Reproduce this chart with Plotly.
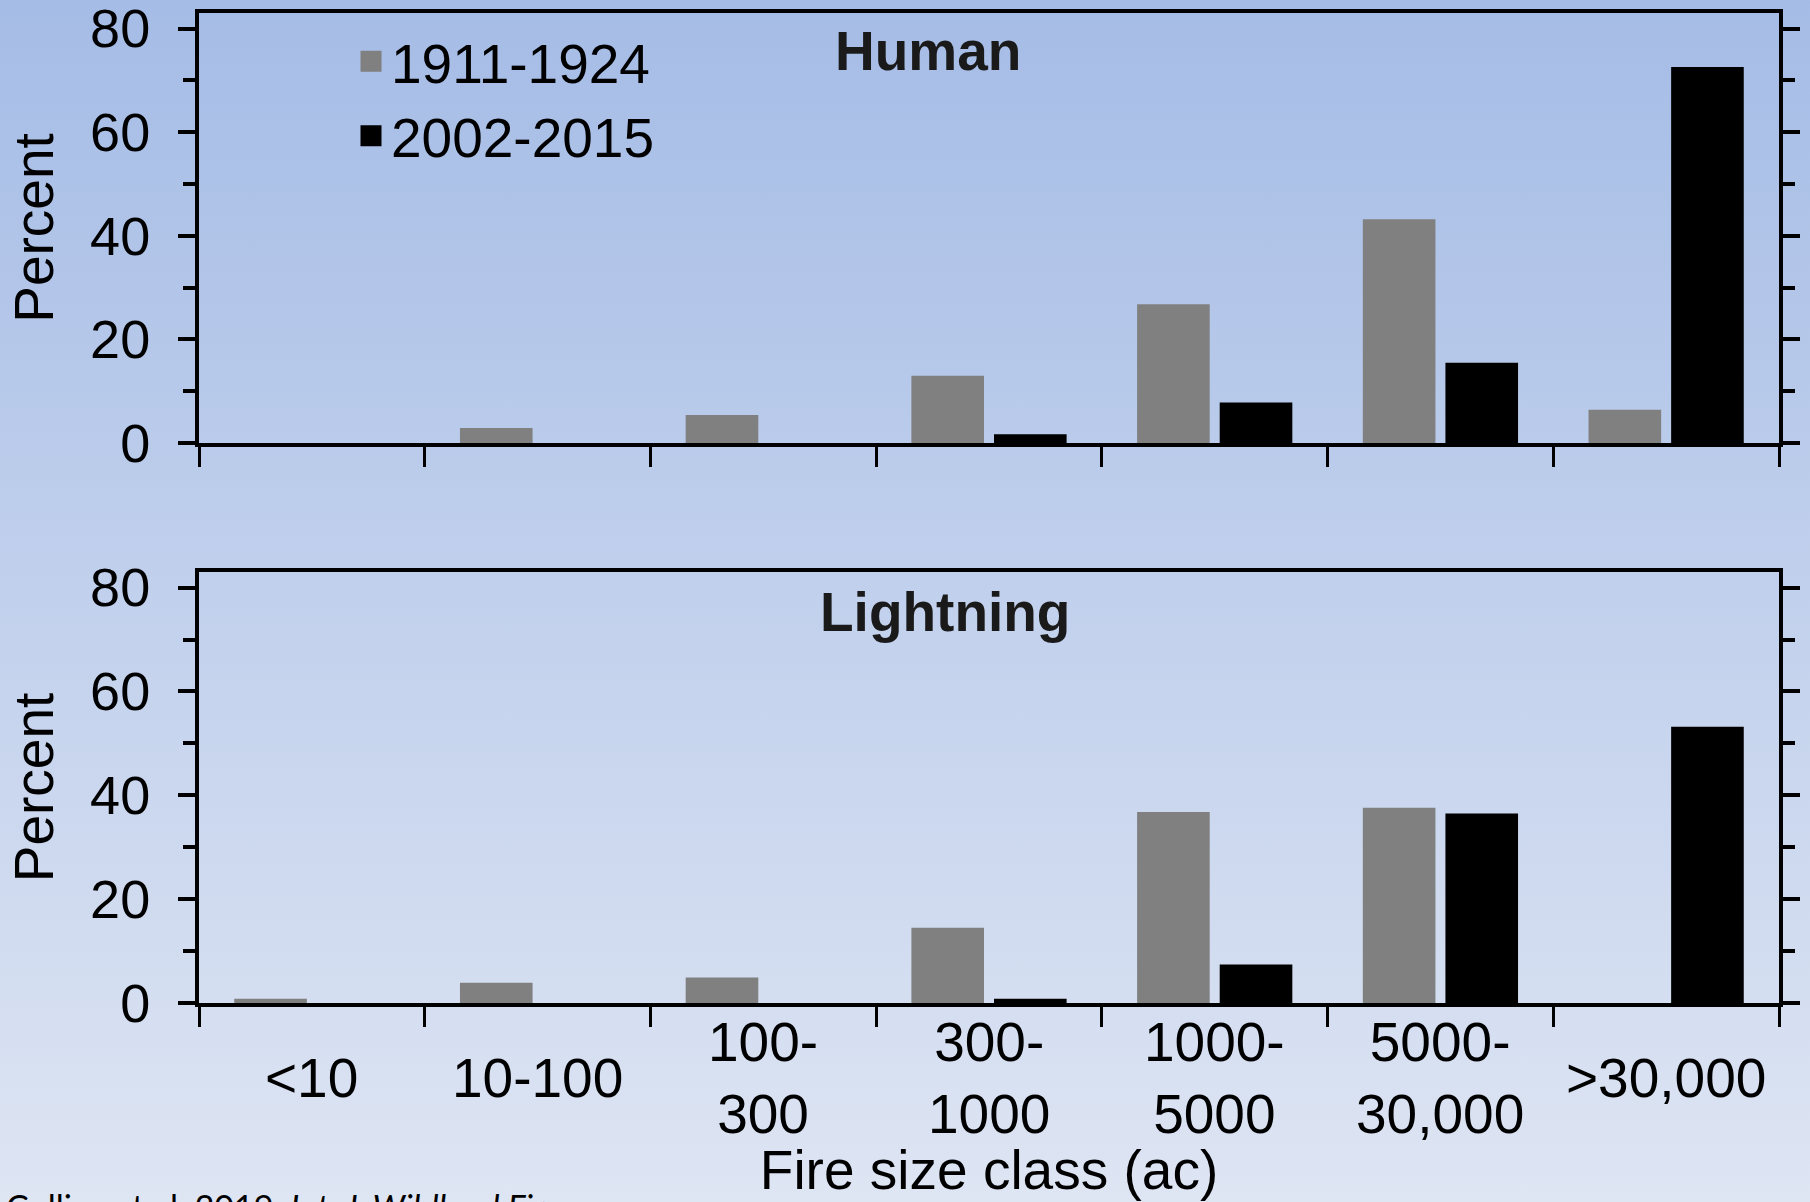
import base64
import plotly.graph_objects as go

# ---------------- data ----------------
categories = ["<10", "10-100", "100-300", "300-1000", "1000-5000", "5000-30,000", ">30,000"]
tick_labels = ["<10", "10-100", "100-<br>300", "300-<br>1000", "1000-<br>5000", "5000-<br>30,000", ">30,000"]
series_names = ["1911-1924", "2002-2015"]
human_1911 = [0, 2.9, 5.4, 13.0, 26.8, 43.2, 6.4]
human_2002 = [0, 0, 0, 1.7, 7.8, 15.5, 72.6]
lightning_1911 = [0.8, 3.9, 4.9, 14.5, 36.8, 37.6, 0]
lightning_2002 = [0, 0, 0, 0.8, 7.4, 36.5, 53.2]
panel_titles = ["Human", "Lightning"]
y_title = "Percent"
x_title = "Fire size class (ac)"
citation = "Collins et al. 2019. <i>Int. J. Wildland Fire</i>"

# ---------------- style ----------------
W, H = 1810, 1202
ML, MR, MT, MB = 199, 31, 13, 199
PW, PH = W - ML - MR, H - MT - MB
FONT = "Liberation Sans, Arial, sans-serif"
GRAY = "#808080"
BLACK = "#000000"
FS = 55


def py(px):
    return (H - MB - px) / PH


def pxx(px):
    return (px - ML) / PW


fig = go.Figure()

for xa, ya, vals_a, vals_b in [("x", "y", human_1911, human_2002),
                               ("x2", "y2", lightning_1911, lightning_2002)]:
    fig.add_trace(go.Bar(x=categories, y=vals_a, marker=dict(color=GRAY, line=dict(width=0)),
                         name=series_names[0], showlegend=False, xaxis=xa, yaxis=ya,
                         hoverinfo="x+y"))
    fig.add_trace(go.Bar(x=categories, y=vals_b, marker=dict(color=BLACK, line=dict(width=0)),
                         name=series_names[1], showlegend=False, xaxis=xa, yaxis=ya,
                         hoverinfo="x+y"))

# legend entries (larger square symbols)
for name, col in zip(series_names, [GRAY, BLACK]):
    fig.add_trace(go.Scatter(x=[None], y=[None], mode="markers", name=name,
                             marker=dict(symbol="square", size=16, color=col,
                                         line=dict(width=5, color=col)),
                             xaxis="x", yaxis="y", showlegend=True))

xcommon = dict(type="category", categoryorder="array", categoryarray=categories,
               range=[-0.5, len(categories) - 0.5], tickson="boundaries",
               ticks="outside", ticklen=20, tickwidth=3, tickcolor="black",
               showticklabels=False, showline=True, linewidth=4, linecolor="black",
               mirror=True, showgrid=False, zeroline=False, fixedrange=True,
               automargin=False)
ycommon = dict(range=[0, 83], dtick=20, tick0=0, ticks="outside", ticklen=17, tickwidth=3.5,
               tickcolor="black", minor=dict(dtick=10, ticks="outside", ticklen=12,
                                             tickwidth=3.5, tickcolor="black"),
               showline=True, linewidth=4, linecolor="black", mirror="ticks",
               showgrid=False, zeroline=False, tickfont=dict(size=54, color="black"),
               ticklabelstandoff=17, ticklabeloverflow="allow", fixedrange=True,
               automargin=False,
               title=dict(text=y_title, font=dict(size=FS, color="black"), standoff=20))

fig.update_layout(
    template="none",
    width=W, height=H, autosize=False,
    margin=dict(l=ML, r=MR, t=MT, b=MB, pad=0),
    font=dict(family=FONT, color="black"),
    paper_bgcolor="#c3d1ec", plot_bgcolor="rgba(0,0,0,0)",
    barmode="group", bargap=0.268, bargroupgap=0.121,
    xaxis=dict(domain=[0, 1], anchor="y", **xcommon),
    yaxis=dict(domain=[py(443), 1.0], anchor="x", **ycommon),
    xaxis2=dict(domain=[0, 1], anchor="y2", **xcommon,
                title=dict(text=x_title, font=dict(size=FS, color="black"), standoff=145)),
    yaxis2=dict(domain=[0, py(572)], anchor="x2", **ycommon),
    legend=dict(x=pxx(351), y=py(19), xanchor="left", yanchor="top",
                bgcolor="rgba(0,0,0,0)", borderwidth=0,
                font=dict(size=FS, color="black"), tracegroupgap=0),
    showlegend=True,
)

# background gradient
svg = ('<svg xmlns="http://www.w3.org/2000/svg" width="1810" height="1202" '
       'preserveAspectRatio="none"><defs><linearGradient id="g" x1="0" y1="0" x2="0" y2="1">'
       '<stop offset="0" stop-color="#a5bce6"/><stop offset="1" stop-color="#dee5f3"/>'
       '</linearGradient></defs><rect width="1810" height="1202" fill="url(#g)"/></svg>')
src = "data:image/svg+xml;base64," + base64.b64encode(svg.encode()).decode()
fig.add_layout_image(dict(source=src, xref="paper", yref="paper", x=pxx(0), y=py(0),
                          sizex=W / PW, sizey=H / PH, xanchor="left", yanchor="top",
                          sizing="stretch", layer="below", opacity=1))

# panel titles
fig.add_annotation(text="<b>" + panel_titles[0] + "</b>", xref="paper", yref="paper",
                   x=pxx(927.6), y=py(51), xanchor="center", yanchor="middle",
                   showarrow=False, font=dict(size=FS, color="#1a1a1a"))
fig.add_annotation(text="<b>" + panel_titles[1] + "</b>", xref="paper", yref="paper",
                   x=pxx(945), y=py(612), xanchor="center", yanchor="middle",
                   showarrow=False, font=dict(size=FS, color="#1a1a1a"))

# category labels under bottom panel (vertically centred like the original)
for cat, lab in zip(categories, tick_labels):
    fig.add_annotation(text=lab, x=cat, xref="x2", yref="paper", y=py(1078),
                       xanchor="center", yanchor="middle", showarrow=False,
                       font=dict(size=FS, color="black"))

# citation
fig.add_annotation(text=citation, xref="paper", yref="paper", x=pxx(4), y=py(1184),
                   xanchor="left", yanchor="top", showarrow=False, align="left",
                   font=dict(family="Lato, Open Sans, sans-serif", size=34, color="black"))

fig.write_html("out.html", config={"displayModeBar": False},
               post_script="document.body.style.margin='0';document.body.style.overflow='hidden';")
